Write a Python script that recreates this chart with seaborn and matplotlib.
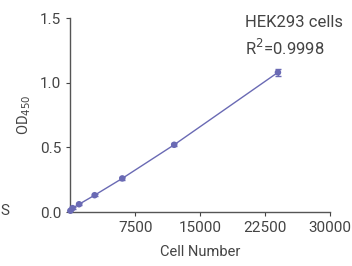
import matplotlib
matplotlib.use("Agg")
import matplotlib.pyplot as plt
import seaborn as sns
import pandas as pd

# HEK293 standard curve
cell_number = [0, 250, 1000, 2800, 6000, 12000, 24000]
od450 = [0.01, 0.03, 0.06, 0.13, 0.26, 0.52, 1.08]
od_err = [0.005, 0.005, 0.006, 0.008, 0.01, 0.012, 0.03]
x_ticks = [7500, 15000, 22500, 30000]
y_ticks = [0.0, 0.5, 1.0, 1.5]

df = pd.DataFrame({"cells": cell_number, "od": od450, "err": od_err})

sns.set_style("ticks")
plt.rcParams['font.family'] = ['Roboto', 'DejaVu Sans']
text_color = "#444444"
line_color = "#6a6ab4"

fig = plt.figure(figsize=(3.52, 2.66), dpi=100)
ax = fig.add_axes([0.2, 0.203, 0.737, 0.729])

sns.lineplot(data=df, x="cells", y="od", ax=ax, color=line_color, linewidth=1.0)
sns.scatterplot(data=df, x="cells", y="od", ax=ax, color=line_color, s=22,
                edgecolor="none", clip_on=False, zorder=3)
ax.errorbar(df["cells"], df["od"], yerr=df["err"], fmt="none", ecolor=line_color,
            elinewidth=1.0, capsize=2, capthick=1.0, clip_on=False)

ax.set_xlim(0, 30000)
ax.set_ylim(0, 1.5)
ax.set_xticks(x_ticks)
ax.set_yticks(y_ticks)
ax.set_xticklabels([str(t) for t in x_ticks])
ax.set_yticklabels([f"{t:.1f}" for t in y_ticks])
ax.tick_params(axis="both", labelsize=11, colors=text_color, length=3, width=0.8)
for s in ["left", "bottom"]:
    ax.spines[s].set_color("#555555")
    ax.spines[s].set_linewidth(1.0)
sns.despine(ax=ax)

ax.set_xlabel("Cell Number", fontsize=10.5, color=text_color, labelpad=7)
ax.set_ylabel("OD$_{450}$", fontsize=10.5, color=text_color, labelpad=5)

ax.text(0.673, 0.979, "HEK293 cells", transform=ax.transAxes, fontsize=12,
        color=text_color, va="center")
ax.text(0.673, 0.845, "R$^2$=0.9998", transform=ax.transAxes, fontsize=12,
        color=text_color, va="center")

fig.text(0.0, 0.19, "S", fontsize=11, color=text_color)

fig.savefig("out.png", dpi=100)
